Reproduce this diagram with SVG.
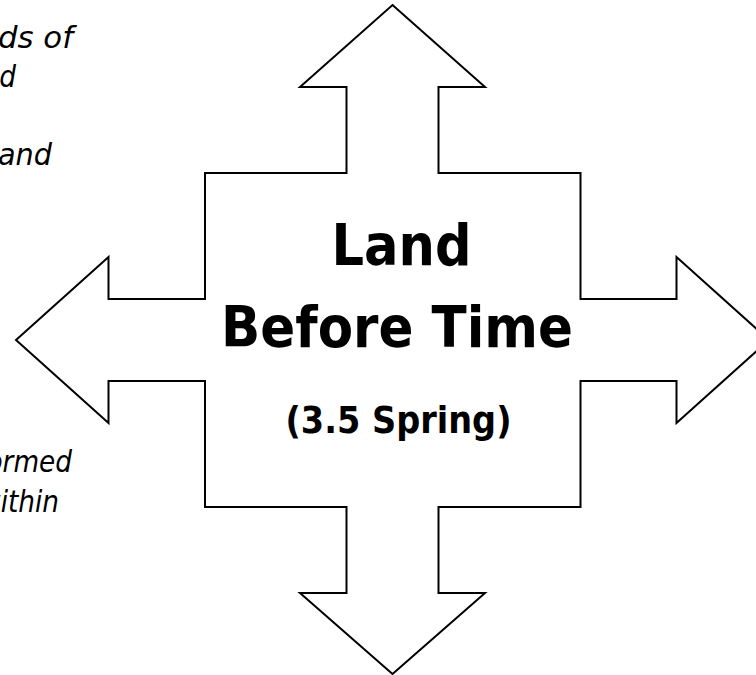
<svg xmlns="http://www.w3.org/2000/svg" width="756" height="675" viewBox="0 0 756 675">
<style>
.side{font-family:"DejaVu Sans","Liberation Sans",sans-serif;font-style:italic;font-size:31px;fill:#000}
.title{font-family:"DejaVu Sans","Liberation Sans",sans-serif;font-weight:bold;fill:#000}
.arrow{fill:#fff;stroke:#000;stroke-width:2;stroke-linejoin:miter}
</style>
<rect width="756" height="675" fill="#fff"/>
<g id="side-text">
<text class="side" x="-2" y="48" textLength="75" lengthAdjust="spacingAndGlyphs">ds of</text>
<text class="side" transform="translate(16,87) scale(0.85,1)" text-anchor="end">d</text>
<text class="side" x="-2" y="165" textLength="54" lengthAdjust="spacingAndGlyphs">and</text>
<text class="side" transform="translate(72,472) scale(0.85,1)" text-anchor="end">ormed</text>
<text class="side" transform="translate(59,512) scale(0.85,1)" text-anchor="end">within</text>
</g>
<g id="cross-arrow">
<polygon class="arrow" points="392.5,5 485,87 438.5,87 438.5,173 580.5,173 580.5,299 676.5,299 676.5,257 769,340 676.5,423 676.5,381 580.5,381 580.5,507 438.5,507 438.5,593 485,593 392.5,674 300,593 346.5,593 346.5,507 205,507 205,381 108.5,381 108.5,423 16,340 108.5,257 108.5,299 205,299 205,173 346.5,173 346.5,87 300,87"/>
</g>
<g id="title">
<text class="title" x="401.5" y="265" font-size="57" text-anchor="middle" textLength="140" lengthAdjust="spacingAndGlyphs">Land</text>
<text class="title" x="397" y="347" font-size="57" text-anchor="middle" textLength="352" lengthAdjust="spacingAndGlyphs">Before Time</text>
<text class="title" x="398.5" y="433" font-size="37.5" text-anchor="middle" textLength="226" lengthAdjust="spacingAndGlyphs">(3.5 Spring)</text>
</g>
</svg>
